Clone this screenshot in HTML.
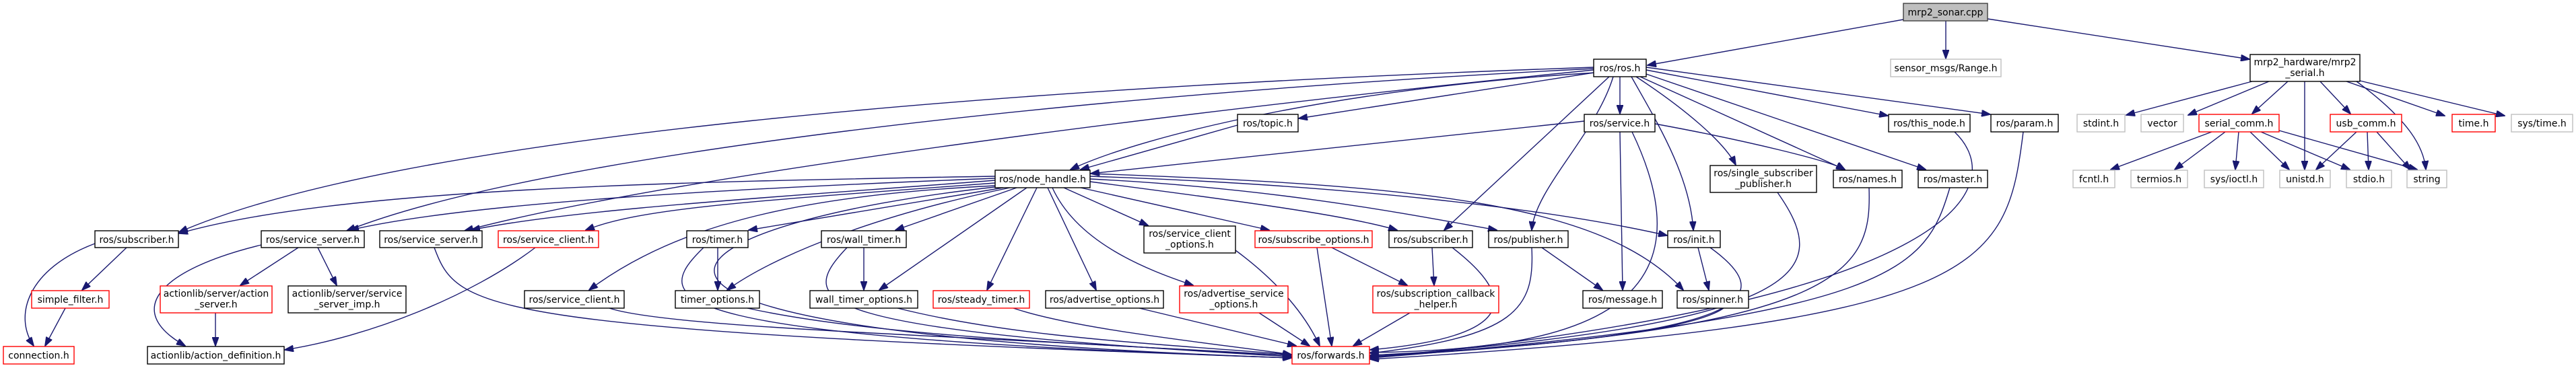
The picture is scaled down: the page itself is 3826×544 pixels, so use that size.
<!DOCTYPE html>
<html><head><meta charset="utf-8"><style>
html,body{margin:0;padding:0;background:#fff;}
svg{display:block;}
text{font-family:"DejaVu Sans","Liberation Sans",sans-serif;font-size:14px;fill:#000;}
.e{fill:none;stroke:#191970;stroke-width:1.4;marker-end:url(#a);}
.n{fill:#fff;stroke:#000;stroke-width:1.4;}
.r{fill:#fff;stroke:#ff0000;stroke-width:1.4;}
.g{fill:#fff;stroke:#bfbfbf;stroke-width:1.4;}
</style></head><body>
<svg width="3826" height="544" viewBox="0 0 3826 544" xmlns="http://www.w3.org/2000/svg">
<defs><marker id="a" viewBox="0 0 14 10" refX="13" refY="5" markerWidth="14" markerHeight="10" markerUnits="userSpaceOnUse" orient="auto"><path d="M0,0 L14,5 L0,10 z" fill="#191970" stroke="#191970"/></marker></defs>
<g>
<path class="e" d="M2827,29 L2447,97"/>
<path class="e" d="M2890,31 L2890,87"/>
<path class="e" d="M2952,28 L3341,88"/>
<path class="e" d="M2367,100 C1500,130 600,200 266,345"/>
<path class="e" d="M2367,102 C1600,140 800,230 515,343"/>
<path class="e" d="M2367,104 C1800,160 1000,260 690,343"/>
<path class="e" d="M2370,108 C2000,130 1700,200 1590,252"/>
<path class="e" d="M2367,108 L1929,176"/>
<path class="e" d="M2406,114 L2406,169"/>
<path class="e" d="M2390,114 L2145,342"/>
<path class="e" d="M2396,114 C2370,200 2280,280 2275,342"/>
<path class="e" d="M2423,114 C2460,180 2510,260 2515,342"/>
<path class="e" d="M2430,114 C2500,160 2560,210 2578,245"/>
<path class="e" d="M2436,114 L2740,252"/>
<path class="e" d="M2445,110 L2860,252"/>
<path class="e" d="M2445,104 L2804,172"/>
<path class="e" d="M2445,100 L2956,170"/>
<path class="e" d="M2353,180 L1620,258"/>
<path class="e" d="M2406,196 L2410,431"/>
<path class="e" d="M2424,196 C2560,480 2300,520 2035,524"/>
<path class="e" d="M2458,184 C2600,210 2720,240 2740,252"/>
<path class="e" d="M1838,186 L1605,252"/>
<path class="e" d="M1478,262 C1000,270 500,280 266,347"/>
<path class="e" d="M1478,265 C1100,280 700,300 520,342"/>
<path class="e" d="M1478,268 C1200,290 850,310 700,342"/>
<path class="e" d="M1478,272 C1100,300 950,310 870,342"/>
<path class="e" d="M1478,276 C1200,290 1010,330 875,431"/>
<path class="e" d="M1490,279 L1112,342"/>
<path class="e" d="M1500,279 C1300,320 1150,380 1080,431"/>
<path class="e" d="M1510,279 L1330,342"/>
<path class="e" d="M1525,279 L1306,431"/>
<path class="e" d="M1540,279 L1466,431"/>
<path class="e" d="M1556,279 L1628,431"/>
<path class="e" d="M1563,279 C1600,360 1700,400 1772,424"/>
<path class="e" d="M1580,279 L1705,335"/>
<path class="e" d="M1605,279 L1885,342"/>
<path class="e" d="M1619,270 C1850,300 2000,320 2075,342"/>
<path class="e" d="M1619,266 C1900,280 2100,320 2223,342"/>
<path class="e" d="M1619,262 C2000,275 2300,310 2476,350"/>
<path class="e" d="M1619,258 C2100,275 2380,300 2500,431"/>
<path class="e" d="M1478,278 C1000,330 700,490 1918,532"/>
<path class="e" d="M141,362 C40,400 20,470 50,514"/>
<path class="e" d="M188,368 L122,431"/>
<path class="e" d="M97,458 L67,514"/>
<path class="e" d="M388,364 C240,400 180,460 275,514"/>
<path class="e" d="M443,368 L357,424"/>
<path class="e" d="M472,368 L500,424"/>
<path class="e" d="M320,465 L320,514"/>
<path class="e" d="M645,368 C680,460 700,490 1918,532"/>
<path class="e" d="M795,368 C700,440 550,500 423,520"/>
<path class="e" d="M905,458 C1000,490 1500,500 1918,530"/>
<path class="e" d="M1066,368 L1066,431"/>
<path class="e" d="M1045,368 C960,450 980,500 1918,532"/>
<path class="e" d="M1110,458 C1300,500 1600,510 1918,528"/>
<path class="e" d="M1283,368 L1283,431"/>
<path class="e" d="M1258,368 C1180,450 1200,490 1918,530"/>
<path class="e" d="M1333,458 C1500,500 1700,510 1918,527"/>
<path class="e" d="M1505,458 C1600,490 1800,510 1918,527"/>
<path class="e" d="M1692,458 L1925,514"/>
<path class="e" d="M1870,465 L1945,514"/>
<path class="e" d="M1835,372 C1900,420 1940,470 1960,514"/>
<path class="e" d="M1956,368 L1978,514"/>
<path class="e" d="M1978,368 L2090,424"/>
<path class="e" d="M2127,368 L2130,424"/>
<path class="e" d="M2157,368 C2250,440 2260,500 2035,520"/>
<path class="e" d="M2275,368 C2280,460 2250,500 2035,525"/>
<path class="e" d="M2290,368 L2380,431"/>
<path class="e" d="M2094,465 L2010,514"/>
<path class="e" d="M2522,368 L2538,431"/>
<path class="e" d="M2540,368 C2640,440 2620,500 2035,528"/>
<path class="e" d="M2560,458 C2500,500 2200,520 2035,530"/>
<path class="e" d="M2640,286 C2720,400 2700,480 2035,530"/>
<path class="e" d="M2776,279 C2780,400 2750,490 2035,530"/>
<path class="e" d="M2896,279 C2860,400 2820,470 2035,532"/>
<path class="e" d="M2903,196 C2990,280 2900,450 2035,532"/>
<path class="e" d="M3005,196 C2980,400 2950,480 2035,534"/>
<path class="e" d="M3345,121 L3158,171"/>
<path class="e" d="M3370,121 L3250,171"/>
<path class="e" d="M3398,121 L3345,169"/>
<path class="e" d="M3423,121 L3423,252"/>
<path class="e" d="M3446,121 L3491,169"/>
<path class="e" d="M3485,121 L3631,172"/>
<path class="e" d="M3505,120 L3720,172"/>
<path class="e" d="M3500,121 C3580,180 3600,220 3603,252"/>
<path class="e" d="M3285,196 L3135,252"/>
<path class="e" d="M3305,196 L3230,252"/>
<path class="e" d="M3325,196 L3320,252"/>
<path class="e" d="M3342,196 L3400,252"/>
<path class="e" d="M3358,196 L3490,252"/>
<path class="e" d="M3385,194 L3590,252"/>
<path class="e" d="M3500,196 L3440,252"/>
<path class="e" d="M3516,196 L3518,252"/>
<path class="e" d="M3530,196 L3580,252"/>
</g>
<g>
<rect x="2827" y="5" width="125" height="26" fill="#bfbfbf" stroke="#404040" stroke-width="1.4"/><text x="2889.5" y="23" text-anchor="middle">mrp2_sonar.cpp</text>
<rect class="n" x="2367" y="88" width="78" height="26"/><text x="2406" y="106" text-anchor="middle">ros/ros.h</text>
<rect class="g" x="2808" y="88" width="164" height="26"/><text x="2890" y="106" text-anchor="middle">sensor_msgs/Range.h</text>
<rect class="n" x="3342" y="81" width="163" height="40"/><text x="3423.5" y="97" text-anchor="middle">mrp2_hardware/mrp2</text><text x="3423.5" y="113" text-anchor="middle">_serial.h</text>
<rect class="n" x="1838" y="170" width="90" height="26"/><text x="1883" y="188" text-anchor="middle">ros/topic.h</text>
<rect class="n" x="2353" y="170" width="105" height="26"/><text x="2405.5" y="188" text-anchor="middle">ros/service.h</text>
<rect class="n" x="2805" y="170" width="121" height="26"/><text x="2865.5" y="188" text-anchor="middle">ros/this_node.h</text>
<rect class="n" x="2957" y="170" width="100" height="26"/><text x="3007" y="188" text-anchor="middle">ros/param.h</text>
<rect class="g" x="3085" y="170" width="71" height="26"/><text x="3120.5" y="188" text-anchor="middle">stdint.h</text>
<rect class="g" x="3180" y="170" width="63" height="26"/><text x="3211.5" y="188" text-anchor="middle">vector</text>
<rect class="r" x="3266" y="170" width="119" height="26"/><text x="3325.5" y="188" text-anchor="middle">serial_comm.h</text>
<rect class="r" x="3461" y="170" width="106" height="26"/><text x="3514" y="188" text-anchor="middle">usb_comm.h</text>
<rect class="r" x="3642" y="170" width="64" height="26"/><text x="3674" y="188" text-anchor="middle">time.h</text>
<rect class="g" x="3730" y="170" width="91" height="26"/><text x="3775.5" y="188" text-anchor="middle">sys/time.h</text>
<rect class="n" x="1478" y="253" width="141" height="26"/><text x="1548.5" y="271" text-anchor="middle">ros/node_handle.h</text>
<rect class="n" x="2540" y="246" width="158" height="40"/><text x="2619" y="262" text-anchor="middle">ros/single_subscriber</text><text x="2619" y="278" text-anchor="middle">_publisher.h</text>
<rect class="n" x="2723" y="253" width="102" height="26"/><text x="2774" y="271" text-anchor="middle">ros/names.h</text>
<rect class="n" x="2849" y="253" width="103" height="26"/><text x="2900.5" y="271" text-anchor="middle">ros/master.h</text>
<rect class="g" x="3079" y="253" width="62" height="26"/><text x="3110" y="271" text-anchor="middle">fcntl.h</text>
<rect class="g" x="3165" y="253" width="84" height="26"/><text x="3207" y="271" text-anchor="middle">termios.h</text>
<rect class="g" x="3274" y="253" width="88" height="26"/><text x="3318" y="271" text-anchor="middle">sys/ioctl.h</text>
<rect class="g" x="3386" y="253" width="75" height="26"/><text x="3423.5" y="271" text-anchor="middle">unistd.h</text>
<rect class="g" x="3485" y="253" width="67" height="26"/><text x="3518.5" y="271" text-anchor="middle">stdio.h</text>
<rect class="g" x="3575" y="253" width="59" height="26"/><text x="3604.5" y="271" text-anchor="middle">string</text>
<rect class="n" x="141" y="343" width="124" height="25"/><text x="203" y="361" text-anchor="middle">ros/subscriber.h</text>
<rect class="n" x="388" y="343" width="153" height="25"/><text x="464.5" y="361" text-anchor="middle">ros/service_server.h</text>
<rect class="n" x="564" y="343" width="152" height="25"/><text x="640" y="361" text-anchor="middle">ros/service_server.h</text>
<rect class="r" x="740" y="343" width="149" height="25"/><text x="814.5" y="361" text-anchor="middle">ros/service_client.h</text>
<rect class="n" x="1020" y="343" width="91" height="25"/><text x="1065.5" y="361" text-anchor="middle">ros/timer.h</text>
<rect class="n" x="1220" y="343" width="126" height="25"/><text x="1283" y="361" text-anchor="middle">ros/wall_timer.h</text>
<rect class="n" x="1699" y="336" width="136" height="40"/><text x="1767" y="352" text-anchor="middle">ros/service_client</text><text x="1767" y="368" text-anchor="middle">_options.h</text>
<rect class="r" x="1864" y="343" width="174" height="25"/><text x="1951" y="361" text-anchor="middle">ros/subscribe_options.h</text>
<rect class="n" x="2063" y="343" width="124" height="25"/><text x="2125" y="361" text-anchor="middle">ros/subscriber.h</text>
<rect class="n" x="2211" y="343" width="118" height="25"/><text x="2270" y="361" text-anchor="middle">ros/publisher.h</text>
<rect class="n" x="2477" y="343" width="78" height="25"/><text x="2516" y="361" text-anchor="middle">ros/init.h</text>
<rect class="r" x="47" y="432" width="115" height="26"/><text x="104.5" y="450" text-anchor="middle">simple_filter.h</text>
<rect class="r" x="238" y="425" width="166" height="40"/><text x="321" y="441" text-anchor="middle">actionlib/server/action</text><text x="321" y="457" text-anchor="middle">_server.h</text>
<rect class="n" x="428" y="425" width="175" height="40"/><text x="515.5" y="441" text-anchor="middle">actionlib/server/service</text><text x="515.5" y="457" text-anchor="middle">_server_imp.h</text>
<rect class="n" x="779" y="432" width="148" height="26"/><text x="853" y="450" text-anchor="middle">ros/service_client.h</text>
<rect class="n" x="1003" y="432" width="125" height="26"/><text x="1065.5" y="450" text-anchor="middle">timer_options.h</text>
<rect class="n" x="1203" y="432" width="160" height="26"/><text x="1283" y="450" text-anchor="middle">wall_timer_options.h</text>
<rect class="r" x="1386" y="432" width="143" height="26"/><text x="1457.5" y="450" text-anchor="middle">ros/steady_timer.h</text>
<rect class="n" x="1553" y="432" width="175" height="26"/><text x="1640.5" y="450" text-anchor="middle">ros/advertise_options.h</text>
<rect class="r" x="1752" y="425" width="161" height="40"/><text x="1832.5" y="441" text-anchor="middle">ros/advertise_service</text><text x="1832.5" y="457" text-anchor="middle">_options.h</text>
<rect class="r" x="2039" y="425" width="187" height="40"/><text x="2132.5" y="441" text-anchor="middle">ros/subscription_callback</text><text x="2132.5" y="457" text-anchor="middle">_helper.h</text>
<rect class="n" x="2351" y="432" width="118" height="26"/><text x="2410" y="450" text-anchor="middle">ros/message.h</text>
<rect class="n" x="2491" y="432" width="106" height="26"/><text x="2544" y="450" text-anchor="middle">ros/spinner.h</text>
<rect class="r" x="5" y="515" width="105" height="26"/><text x="57.5" y="533" text-anchor="middle">connection.h</text>
<rect class="n" x="219" y="515" width="203" height="26"/><text x="320.5" y="533" text-anchor="middle">actionlib/action_definition.h</text>
<rect class="r" x="1919" y="515" width="115" height="26"/><text x="1976.5" y="533" text-anchor="middle">ros/forwards.h</text>
</g>
</svg>
</body></html>
